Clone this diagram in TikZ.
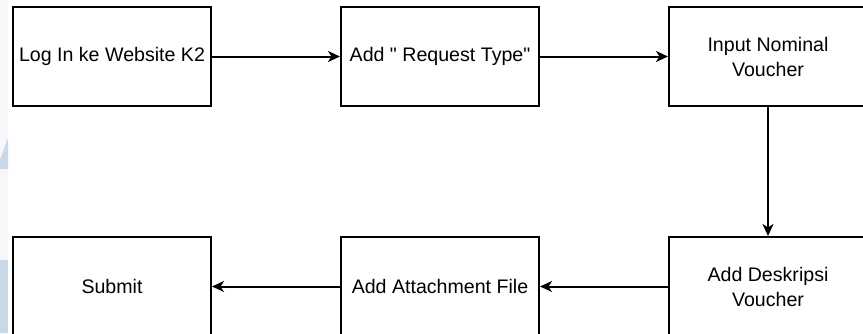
\documentclass[tikz,border=0pt]{standalone}
\usepackage{fontspec}
\setmainfont{Liberation Sans}[Ligatures=TeXOff]
\usepackage{tikz}
\usetikzlibrary{arrows.meta}
\definecolor{wmark}{HTML}{C9D8E6}
\definecolor{wstrip}{HTML}{F5F7FA}

\begin{document}
\begin{tikzpicture}[x=1pt,y=-1pt,line width=2pt,
   stepbox/.style={draw,rectangle,minimum width=198pt,minimum height=99pt,align=center,font=\fontsize{19.6}{25}\selectfont},
   flow/.style={-{Stealth[length=12pt,width=11pt,inset=3.5pt]}}]
\clip (0,0) rectangle (863,333);
\useasboundingbox (0,0) rectangle (863,333);
% watermark on the left
\fill[wstrip] (0,0) rectangle (8,333);
\fill[wmark] (8,138) -- (8,169) -- (0,169) -- (0,160) -- cycle;
\fill[wmark] (0,260) rectangle (8,333);
% top row
\node[stepbox] (login) at (112,56.5) {Log In ke Website K2};
\node[stepbox] (reqtype) at (440,56.5) {Add " Request Type"};
\node[stepbox] (nominal) at (768,56.5) {Input Nominal\\Voucher};
% bottom row
\node[stepbox] (submit) at (112,286.5) {Submit};
\node[stepbox] (attach) at (440,286.5) {Add Attachment File};
\node[stepbox] (deskripsi) at (768,286.5) {Add Deskripsi\\Voucher};
\draw[flow] (login) -- (reqtype);
\draw[flow] (reqtype) -- (nominal);
\draw[flow] (nominal) -- (deskripsi);
\draw[flow] (deskripsi) -- (attach);
\draw[flow] (attach) -- (submit);
\end{tikzpicture}
\end{document}
